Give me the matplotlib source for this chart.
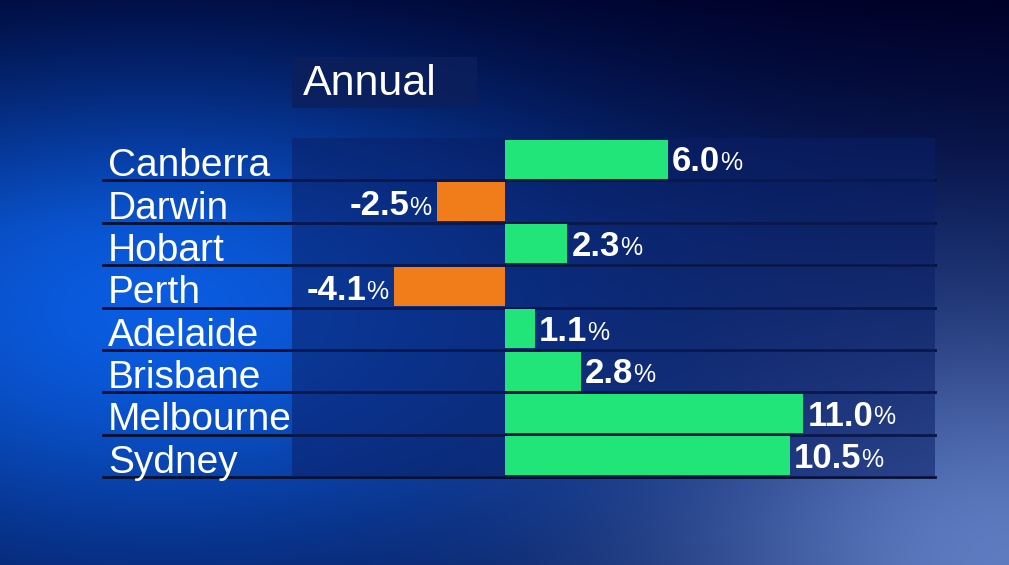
import numpy as np
import matplotlib
matplotlib.use("Agg")
import matplotlib.pyplot as plt

cities = ["Canberra", "Darwin", "Hobart", "Perth", "Adelaide", "Brisbane", "Melbourne", "Sydney"]
values = [6.0, -2.5, 2.3, -4.1, 1.1, 2.8, 11.0, 10.5]
title = "Annual"

W, H = 1009, 565
fig = plt.figure(figsize=(W/100, H/100), dpi=100)
bg = fig.add_axes([0, 0, 1, 1])
yy, xx = np.mgrid[0:H, 0:W]
xn, yn = xx / W, yy / H
r = np.full((H, W), 0.02); g = np.full((H, W), 0.08); b = np.full((H, W), 0.30)
d1 = np.exp(-(((xn - 0.15) / 0.45) ** 2 + ((yn - 0.55) / 0.45) ** 2))
r += 0.02 * d1; g += 0.28 * d1; b += 0.58 * d1
d2 = np.exp(-(((xn - 1.0) / 0.35) ** 2 + ((yn - 1.0) / 0.45) ** 2))
r += 0.35 * d2; g += 0.40 * d2; b += 0.45 * d2
top = np.clip(1 - yn * 2.5, 0, 1)
r -= 0.02 * top; g -= 0.08 * top; b -= 0.15 * top
img = np.clip(np.dstack([r, g, b]), 0, 1)
bg.imshow(img, extent=[0, W, H, 0], aspect="auto")
bg.set_xlim(0, W); bg.set_ylim(H, 0); bg.axis("off")

font = "Liberation Sans"
bg.add_patch(plt.Rectangle((292, 57), 185, 51, color="#0c1f5c", alpha=0.85, lw=0))
bg.text(303, 84, title, color="white", fontsize=31, family=font, va="center", ha="left")

top_px, bot_px, left_px, right_px = 138, 477, 292, 935
scale = 27.1
zero_px = 505
ax = fig.add_axes([left_px / W, 1 - bot_px / H, (right_px - left_px) / W, (bot_px - top_px) / H])
ax.set_xlim(-(zero_px - left_px) / scale, (right_px - zero_px) / scale)
n = len(cities)
ax.set_ylim(n, 0)
ax.patch.set_facecolor("#0a1f66"); ax.patch.set_alpha(0.55)
for s in ax.spines.values():
    s.set_visible(False)
ax.set_xticks([]); ax.set_yticks([])

y = np.arange(n) + 0.5
colors = ["#22e57a" if v >= 0 else "#f07d1a" for v in values]
ax.barh(y, values, height=0.92, color=colors, align="center")

rh = (bot_px - top_px) / n
for i, (c, v) in enumerate(zip(cities, values)):
    bg.plot([103, 935], [top_px + (i + 1) * rh] * 2, color="#0a0f2a", lw=2)
    bg.text(108, top_px + (i + 0.5) * rh + 7, c, color="white",
            fontsize=28, family=font, va="center", ha="left")
    if v >= 0:
        t = ax.annotate(f"{v:.1f}", (v, i + 0.5), xytext=(3, -2), textcoords="offset points",
                        color="white", fontsize=25, family=font, weight="bold",
                        va="center", ha="left")
        ax.annotate("%", (1, 0.1), xycoords=t, color="white", fontsize=18, family=font,
                    va="bottom", ha="left")
    else:
        pct = ax.annotate("%", (v, i + 0.5), xytext=(-4, -13), textcoords="offset points",
                          color="white", fontsize=18, family=font, va="bottom", ha="right")
        ax.annotate(f"{v:.1f}", (0, -0.1), xycoords=pct, color="white", fontsize=25,
                    family=font, weight="bold", va="bottom", ha="right")

fig.savefig("out.png", dpi=100)
